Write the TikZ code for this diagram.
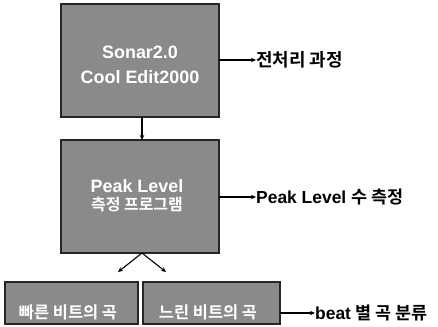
\documentclass[tikz,border=0pt]{standalone}
\usepackage{fontspec}
\setmainfont{Liberation Sans}
\newfontfamily\kr{Noto Sans CJK KR}[BoldFont={* Bold}]
\usetikzlibrary{arrows.meta}
\definecolor{boxfill}{HTML}{8A8A8A}
\tikzset{
  pbox/.style={draw=black!85, line width=1.8pt, fill=boxfill},
  intext/.style={text=white, font=\bfseries\fontsize{18}{19}\selectfont, align=center, inner sep=0pt},
  lab/.style={anchor=west, inner sep=0pt, font=\bfseries\fontsize{17.5}{18}\selectfont},
  arr/.style={-{Stealth[length=5pt,width=4.5pt]}, line width=1.1pt, black}
}
\begin{document}
\begin{tikzpicture}[x=1bp,y=-1bp]
\useasboundingbox (0,0) rectangle (438,326);
% boxes
\draw[pbox] (61,4) rectangle (219,117);
\node[intext] (b1) at (140,52) {Sonar2.0};
\node[intext] (b1b) at (140,77) {Cool Edit2000};
\coordinate (b1s) at (142,117);
\coordinate (b1e) at (219,60);
\draw[pbox] (61,140) rectangle (219,253);
\node[intext] (b2) at (137,186) {Peak Level};
\node[intext, font=\kr\bfseries\fontsize{16}{17}\selectfont] (b2b) at (137,205) {측정 프로그램};
\coordinate (b2n) at (142,140);
\coordinate (b2s) at (142,253);
\coordinate (b2e) at (219,197);
\draw[pbox] (5,282) rectangle (138,324);
\node[intext, font=\kr\bfseries\fontsize{16.5}{17}\selectfont] (b3) at (68,312) {빠른 비트의 곡};
\coordinate (b3n) at (118,272);
\draw[pbox] (143,282) rectangle (280,324);
\node[intext, font=\kr\bfseries\fontsize{16.5}{17}\selectfont] (b4) at (208,312) {느린 비트의 곡};
\coordinate (b4n) at (166,272);
\coordinate (b4e) at (280,313);
% arrows
\draw[arr] (b1s) -- (b2n);
\draw[arr] (b2s) -- (b3n);
\draw[arr] (b2s) -- (b4n);
% labels
\node[lab, font=\kr\bfseries\fontsize{18}{19}\selectfont] (l1) at (256,60) {전처리 과정};
\node[lab] (l2) at (256,197) {Peak Level {\kr 수 측정}};
\node[lab] (l3) at (315,313) {beat {\kr 별 곡 분류}};
\draw[arr] (b1e) -- (l1.west);
\draw[arr] (b2e) -- (l2.west);
\draw[arr] (b4e) -- (l3.west);
\end{tikzpicture}
\end{document}
